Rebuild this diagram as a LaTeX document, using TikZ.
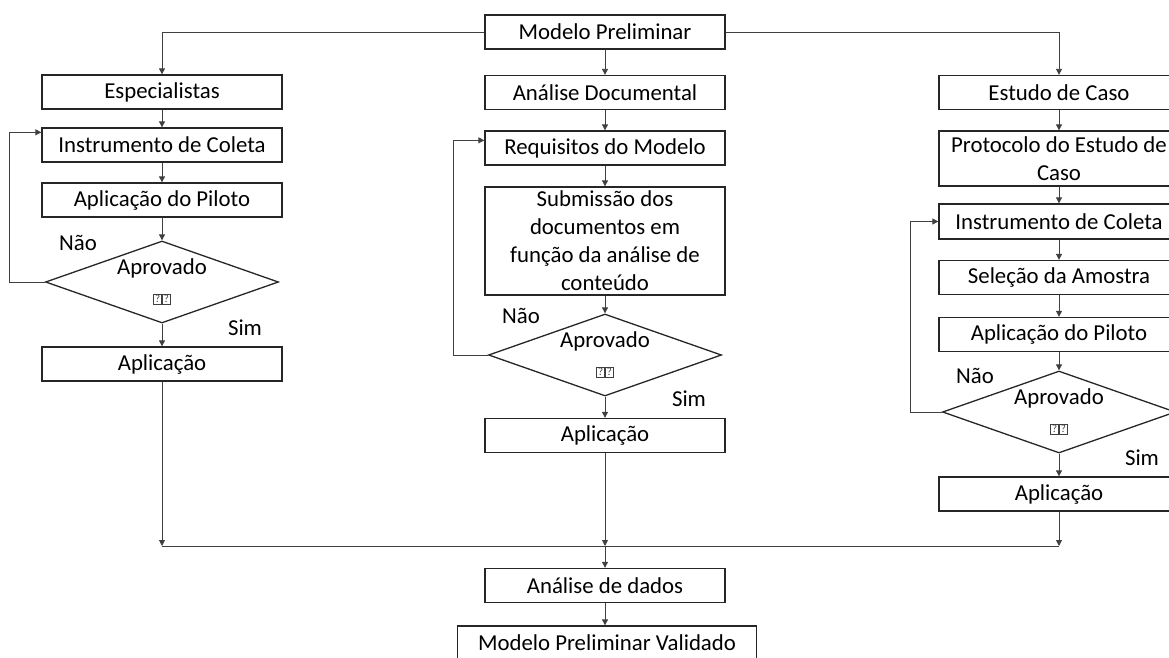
\documentclass[tikz,border=0pt]{standalone}
\usepackage{fontspec}
\setmainfont{Carlito}
\usetikzlibrary{arrows.meta,shapes.geometric}
\newcommand{\qmarks}{{\fontsize{11}{11}\selectfont\color{black!75}\setlength{\fboxsep}{1.2pt}\setlength{\fboxrule}{0.7pt}\fbox{?}\fbox{?}}}

\begin{document}
\begin{tikzpicture}[
    x=1pt, y=-1pt,
    stepbox/.style={draw=black!85, line width=1.3pt, minimum width=240pt, minimum height=34pt, inner sep=1pt, align=center, font=\fontsize{22.8}{28}\selectfont},
    decision/.style={draw=black!85, line width=1.3pt, diamond, minimum width=233pt, minimum height=82pt, inner sep=0pt},
    dectext/.style={align=center, inner sep=0pt, font=\fontsize{22.8}{28}\selectfont},
    answer/.style={inner sep=0pt, font=\fontsize{22.8}{28}\selectfont},
    link/.style={draw=black!75, line width=0.9pt},
    arrow/.style={link, -{Triangle[length=6pt,width=6pt]}}
]
\useasboundingbox (0,0) rectangle (1169,658);
\clip (0,0) rectangle (1169,658);

% centre column
\node[stepbox] (mp) at (605,32) {Modelo Preliminar};
\node[stepbox] (doc) at (605,92.5) {Análise Documental};
\node[stepbox] (req) at (605,148) {Requisitos do Modelo};
\node[stepbox, minimum height=108pt] (sub) at (605,241) {Submissão dos\\documentos em\\função da análise de\\conteúdo};
\node[decision] (decB) at (605,355) {};
\node[dectext] (txtB) at (decB) {Aprovado\\\qmarks};
\node[stepbox] (aplB) at (605,435.5) {Aplicação};
\node[stepbox] (dados) at (605,585.5) {Análise de dados};
\node[stepbox, minimum width=299pt] (final) at (607,643) {Modelo Preliminar Validado};

% left column
\node[stepbox] (esp) at (162,92) {Especialistas};
\node[stepbox] (colA) at (162,145) {Instrumento de Coleta};
\node[stepbox] (pilA) at (162,200) {Aplicação do Piloto};
\node[decision] (decA) at (162,282) {};
\node[dectext] (txtA) at (decA) {Aprovado\\\qmarks};
\node[stepbox] (aplA) at (162,364) {Aplicação};

% right column
\node[stepbox] (caso) at (1059,92.5) {Estudo de Caso};
\node[stepbox, minimum height=55pt] (prot) at (1059,158.5) {Protocolo do Estudo de\\Caso};
\node[stepbox, minimum height=35pt] (colC) at (1059,221.5) {Instrumento de Coleta};
\node[stepbox] (sel) at (1059,277.5) {Seleção da Amostra};
\node[stepbox] (pilC) at (1059,334.5) {Aplicação do Piloto};
\node[decision] (decC) at (1059,412) {};
\node[dectext] (txtC) at (decC) {Aprovado\\\qmarks};
\node[stepbox] (aplC) at (1059,494) {Aplicação};

\node[answer] (noA) at (78,243) {Não};
\node[answer] (simA) at (245,328) {Sim};
\node[answer] (noB) at (521,316) {Não};
\node[answer] (simB) at (689,399) {Sim};
\node[answer] (noC) at (975,376) {Não};
\node[answer] (simC) at (1142,458) {Sim};

\draw[arrow] (mp.west) -| (esp.north);
\draw[arrow] (mp.east) -| (caso.north);
\draw[arrow] (mp) -- (doc);
\draw[arrow] (doc) -- (req);
\draw[arrow] (req) -- (sub);
\draw[arrow] (sub) -- (decB);
\draw[arrow] (decB) -- (aplB);

\draw[arrow] (esp) -- (colA);
\draw[arrow] (colA) -- (pilA);
\draw[arrow] (pilA) -- (decA);
\draw[arrow] (decA) -- (aplA);

\draw[arrow] (caso) -- (prot);
\draw[arrow] (prot) -- (colC);
\draw[arrow] (colC) -- (sel);
\draw[arrow] (sel) -- (pilC);
\draw[arrow] (pilC) -- (decC);
\draw[arrow] (decC) -- (aplC);

% back to the start when not approved
\draw[arrow] (decA.west) -- ++(-35,0) |- ([yshift=-5pt]colA.north west);
\draw[arrow] (decB.west) -- ++(-34,0) |- ([yshift=-10pt]req.north west);
\draw[arrow] (decC.west) -- ++(-31,0) |- (colC.west);

\coordinate (merge) at (605,546);
\draw[arrow] (aplA) -- (aplA |- merge);
\draw[arrow] (aplB) -- (merge);
\draw[arrow] (aplC) -- (aplC |- merge);
\draw[link] (aplA |- merge) -- (aplC |- merge);
\draw[arrow] (merge) -- (dados);
\draw[arrow] (dados.south) -- (dados.south |- final.north);

\end{tikzpicture}
\end{document}
